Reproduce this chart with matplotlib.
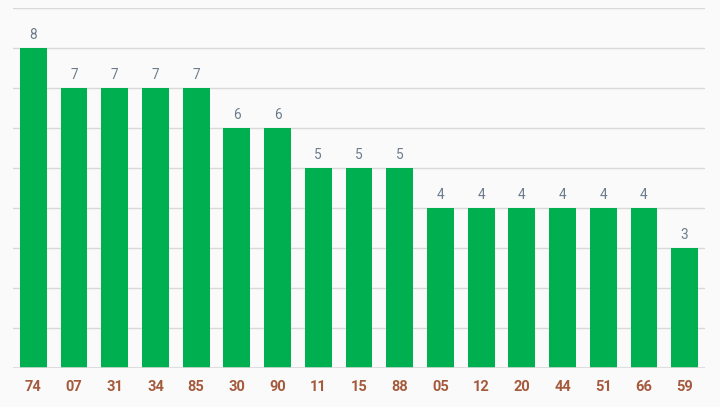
import matplotlib
matplotlib.use("Agg")
import matplotlib.pyplot as plt

categories = ["74", "07", "31", "34", "85", "30", "90", "11", "15", "88",
              "05", "12", "20", "44", "51", "66", "59"]
values = [8, 7, 7, 7, 7, 6, 6, 5, 5, 5, 4, 4, 4, 4, 4, 4, 3]

bg = "#fafafa"
fig = plt.figure(figsize=(7.2, 4.07), dpi=100, facecolor=bg)
ax = fig.add_axes([13/720, 1-368/407, 692/720, 360/407], facecolor=bg)

x = range(len(categories))
ax.bar(x, values, width=0.66, color="#00b050", zorder=2)
ax.set_xlim(-0.5, len(categories) - 0.5)
ax.set_ylim(0, 9)
ax.set_yticks(range(0, 10))
ax.yaxis.grid(True, color="#d9d9d9", linewidth=1, zorder=0)
ax.axhline(0, color="#d9d9d9", linewidth=1.2, zorder=3)
ax.tick_params(axis="y", left=False, labelleft=False)
ax.tick_params(axis="x", bottom=False, pad=5)
ax.set_xticks(list(x))
ax.set_xticklabels(categories, fontfamily="Roboto", fontweight="bold",
                   fontsize=10.5, color="#a55a3c")
for s in ax.spines.values():
    s.set_visible(False)

for xi, v in zip(x, values):
    ax.annotate(str(v), (xi, v), xytext=(0, 4.5), textcoords="offset points",
                ha="center", va="bottom", fontfamily="Roboto", fontsize=9.8,
                color="#6c7c8c")

fig.savefig("out.png", dpi=100, facecolor=bg)
